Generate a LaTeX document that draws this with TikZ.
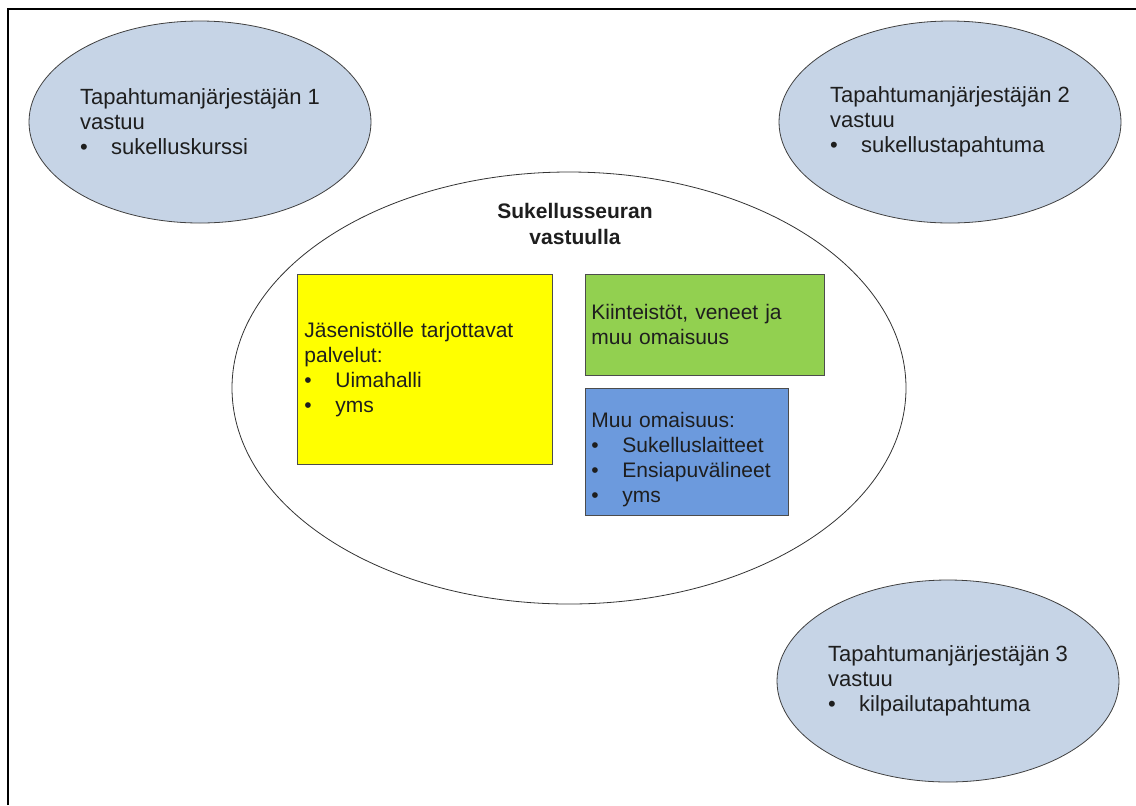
\documentclass[tikz,border=0pt]{standalone}
\usepackage{fontspec}
\setmainfont{Liberation Sans}
\usepackage{xcolor}
\usepackage{tikz}
\usetikzlibrary{shapes.geometric}
\usetikzlibrary{positioning}
\definecolor{partyfill}{RGB}{198,212,230}
\definecolor{boxyellow}{RGB}{255,255,0}
\definecolor{boxgreen}{RGB}{146,208,80}
\definecolor{boxblue}{RGB}{108,154,221}
\definecolor{inktext}{RGB}{30,30,30}
\newcommand{\bitem}[1]{\makebox[15.5pt][l]{\textbullet}#1}
\tikzset{
	every node/.style={
		font=\fontsize{10.5}{12.5}\selectfont,
		text=inktext},
	party/.style={
		ellipse,
		draw=black!75,
		fill=partyfill,
		inner sep=0pt,
		align=left,
		font=\fontsize{11}{12.5}\selectfont,
		minimum width=171pt,
		minimum height=101pt},
	club/.style={
		ellipse,
		draw=black!80,
		fill=white,
		minimum width=337pt,
		minimum height=216pt},
	infobox/.style={
		rectangle,
		draw=black!70,
		anchor=north west,
		align=left,
		inner sep=3pt}
}
\begin{document}
\begin{tikzpicture}[x=0.5pt,y=-0.5pt]
				\useasboundingbox[fill=white] (0,0) rectangle (1136,805);
				\coordinate (fbl) at (8,805);
				\coordinate (ftl) at (8,9);
				\coordinate (ftr) at (1136,9);
				\draw[line width=1.2pt] (fbl) -- (ftl) -- (ftr);
				\node[party] (p1) at (200,122) {Tapahtumanjärjestäjän 1\\vastuu\\\bitem{sukelluskurssi}};
				\node[party] (p2) at (950,122) {Tapahtumanjärjestäjän 2\\vastuu\\\bitem{sukellustapahtuma}};
				\node[party] (p3) at (948,681) {Tapahtumanjärjestäjän 3\\vastuu\\\bitem{kilpailutapahtuma}};
				\node[club] (seura) at (569,388) {};
				\node[align=center, font=\fontsize{10.5}{13}\selectfont\bfseries] (otsikko) at (575,224) {Sukellusseuran\\vastuulla};
				\node[infobox, fill=boxyellow, text width=120.5pt, minimum height=95pt, inner sep=3.5pt] (palvelut) at (297,274) {Jäsenistölle tarjottavat\\palvelut:\\\bitem{Uimahalli}\\\bitem{yms}};
				\node[infobox, fill=boxgreen, text width=113.5pt, minimum height=50.5pt] (kiinteistot) at (585,274) {Kiinteistöt, veneet ja\\muu omaisuus};
				\node[infobox, fill=boxblue, text width=95.5pt, minimum height=63.5pt] (omaisuus) at (585,388) {\rule{0pt}{15.6pt}Muu omaisuus:\\\bitem{Sukelluslaitteet}\\\bitem{Ensiapuvälineet}\\\bitem{yms}};
			\end{tikzpicture}
\end{document}
